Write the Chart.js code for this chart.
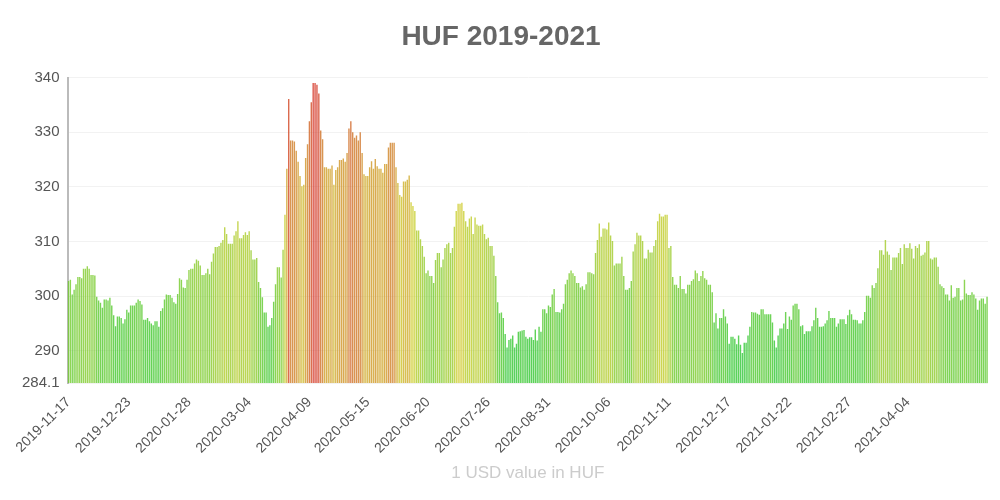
<!DOCTYPE html>
<html><head><meta charset="utf-8">
<script src="https://cdn.jsdelivr.net/npm/chart.js@4"></script>
<style>body{margin:0;background:#fff}#w{width:1000px;height:500px}</style>
</head><body><div id="w"><canvas id="c"></canvas></div>
<script>
const tickLabels=["2019-11-17","2019-12-23","2020-01-28","2020-03-04","2020-04-09","2020-05-15","2020-06-20","2020-07-26","2020-08-31","2020-10-06","2020-11-11","2020-12-17","2021-01-22","2021-02-27","2021-04-04"];
const values=[
302.8,303,300.3,301.2,302.2,303.5,303.5,303.3,305,305,305.5,305,303.9,303.9,303.8,
299.9,299.2,298.8,297.9,299.4,299.4,299.2,299.7,298.3,296.5,294.5,296.3,296.3,296,295,295.8,297.5,297,298.3,298.3,298.3,298.8,299.4,299.1,298.5,295.7,295.7,296,295.4,295,294.7,295.4,295.4,294.4,297.3,297.8,299.4,300.3,300.2,300.2,299.7,298.9,298.6,300.4,303.3,303,301.6,301.5,303,304.8,305,305,306,306.7,306.5,305.6,303.9,303.9,304.2,305,304,306.3,307.8,309,309,309.2,309.8,310.3,312.6,311.4,309.6,309.6,309.6,311.1,311.9,313.7,310.6,310.6,311.2,311.7,311.2,311.9,308.4,306.7,306.7,307,302.6,301.5,299.8,297,297,294.4,294.7,296,299,302.2,305.3,305.3,303.4,308.5,314.9,323.3,336.1,328.5,328.5,328.3,326.6,324.6,322,320.1,320.4,325.3,
327.8,332,335.5,339,339,338.7,337.1,330.3,328.7,323.6,323.6,323.3,323.3,323.9,320.4,323.1,323.6,324.9,324.9,325.2,324.6,326.2,330.7,332,330,329,329.4,328.5,330,326.2,322.3,322,322,323.6,324.7,323.3,325.1,323.8,323.3,323.3,322.6,324.2,324.2,327.2,328.1,328.1,328.1,323.6,320.7,318.5,318.2,321,321,321.3,322.1,317.2,316.5,315.6,312,312,310.4,309.2,307.2,304.2,304.7,303.7,303.7,302.4,306.6,307.9,307.9,305.3,306.7,308.8,309.5,309.8,307.9,308.8,312.7,315.6,316.9,316.9,317.1,315.6,313.7,312.7,314.2,314.6,311.4,314.4,313.1,312.9,312.9,313.1,311.4,310.4,310.7,309.2,309.2,307.4,303.7,298.9,296.9,297,296,293.1,290.6,292,292.2,292.8,290.6,291.3,293.5,293.6,293.7,293.8,
292.6,292.2,292.5,292.5,292,293.9,291.9,294.4,293.5,297.6,297.6,296.9,298.3,298,300.3,301.3,297.1,297.1,297,297.6,298.6,302.2,303,304.2,304.7,304.2,303.7,302.4,302.4,301.6,301.8,301.2,302.2,304.4,304.4,304.2,304,307.9,310.3,313.3,310.9,312.4,312.4,312.2,313.5,311.1,310.1,305.6,306,306,306,307.2,303.7,301.2,301.2,301.5,302.8,308.2,309.5,311.6,311.1,311.1,310.1,306.9,306.9,308.5,308,308,309.2,310.3,313.7,315.1,314.6,314.6,314.9,314.9,308.8,309.2,303.5,302.1,302.1,301.5,303.7,301.3,301.3,300.5,302.1,302.1,302.8,303.1,304.7,304.2,302.8,303.7,304.6,303.3,303,302.1,302.1,300.7,295.2,296.9,294.1,296,296,297.6,296.3,295,291.3,292.6,292.6,292.2,291.2,292.8,291.1,289.6,291.5,291.5,292.8,294.4,297.1,
297,297,296.8,296.6,297.6,297.6,296.7,296.7,296.7,296.7,295.2,291.9,290.6,292.8,294.1,294.1,295,297.1,294,296.3,295.7,298.3,298.6,298.6,297.6,294.5,294.7,293.1,293.6,293.6,293.6,294.5,295.6,297.9,296,294.4,294.4,294.5,295,295.6,297.3,296,296,296,294.4,295,295.8,295.8,295.8,294.9,296.5,297.5,296.7,295.7,295.7,295.6,295,295,295.6,297.1,300.1,300.1,299.7,302,301.5,302.4,305.1,308.4,308.4,307.6,310.3,308.2,307.6,304.8,307.1,307.1,307.1,307.9,308.8,305.9,309.5,308.8,308.8,309.7,308.7,306.9,309.2,308.8,309.5,307.4,307.6,308,310.1,310.1,306.9,306.7,307.1,307.1,305.4,302.2,301.8,301.5,300.3,300.3,299.2,302,299.7,299.9,301.5,301.5,299.2,299.4,303,300.5,300.2,300.2,300.7,300.3,299.6,297.5,299.2,299.6,299.6,298.6,299.9
];
const labels=values.map((v,i)=>String(i));
const N=values.length;
const tickIdx={};
tickLabels.forEach((t,k)=>{tickIdx[Math.round(k*N*60/920)]=t;});
const lo=290,hi=339;
function col(v,a){let f=Math.max(0,Math.min(1,(v-lo)/(hi-lo)));let h=125-120*f;return `hsla(${h},${62+10*f}%,${48}%,${a})`;}
new Chart(document.getElementById('c'),{
type:'bar',
data:{labels,datasets:[{data:values,backgroundColor:values.map(v=>col(v,0.8)),borderWidth:0,categoryPercentage:1,barPercentage:0.75}]},
options:{responsive:true,maintainAspectRatio:false,animation:false,
layout:{padding:{left:14,right:12,top:14,bottom:12}},
plugins:{legend:{display:false},tooltip:{enabled:false},
title:{display:true,text:'HUF 2019-2021',color:'#666',font:{family:'Liberation Sans, Arial',size:28,weight:'bold'},padding:{top:6,bottom:24}}},
scales:{
x:{grid:{display:false,drawTicks:true,tickLength:8},border:{display:false},
ticks:{autoSkip:false,maxRotation:45,minRotation:45,color:'#555',font:{family:'Liberation Sans, Arial',size:14},
callback:(v,i)=>tickIdx[i]!==undefined?tickIdx[i]:null},
title:{display:true,text:'1 USD value in HUF',color:'#ccc',font:{family:'Liberation Sans, Arial',size:17},padding:{top:4}}},
y:{min:284.1,max:340,grid:{color:'#f2f2f2',drawTicks:false},border:{display:true,color:'#bbb',width:2},
afterBuildTicks:s=>{s.ticks=[284.1,290,300,310,320,330,340].map(v=>({value:v}));},
ticks:{color:'#555',padding:8,font:{family:'Liberation Sans, Arial',size:15},callback:v=>String(v)}}
}}});
</script></body></html>
